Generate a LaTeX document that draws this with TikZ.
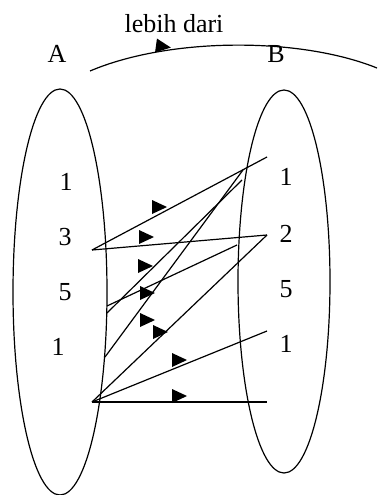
\documentclass[tikz,border=0pt]{standalone}
\usepackage{fontspec}
\setmainfont{Liberation Serif}

\begin{document}
\begin{tikzpicture}[x=1pt,y=-1pt,line width=1.2pt,
  every node/.style={font=\fontsize{26}{30}\selectfont,anchor=base,inner sep=0pt},
  head/.pic={\fill (0,-7) -- (15,0) -- (0,7) -- cycle;}]
\useasboundingbox (0,0) rectangle (378,495);
% the two sets
\draw (60,292) ellipse (47 and 203);
\draw (284,281.5) ellipse (46 and 191.5);
\node (setA) at (57,63) {A};
\node (setB) at (276,63) {B};
% relation arc
\coordinate (arcL) at (90,71);
\coordinate (arcR) at (377,68);
\draw (arcL) .. controls (170,37) and (300,37) .. (arcR);
\node (rel) at (174,33) {lebih dari};
\pic[rotate=-8] (hd0) at (156,45.5) {head};
% members of A
\node (a1) at (66,190) {1};
\node (a3) at (65,245) {3};
\node (a5) at (65,300) {5};
\node (a1b) at (58,355) {1};
% members of B
\node (b1) at (286,185) {1};
\node (b2) at (286,242) {2};
\node (b5) at (286,297) {5};
\node (b1b) at (286,352) {1};
% end points
\coordinate (P3) at (92,250);
\coordinate (P5) at (107,313);
\coordinate (P5b) at (107,306);
\coordinate (P1) at (105,357);
\coordinate (Pb) at (92,402);
\coordinate (Q1) at (267,157);
\coordinate (Q2) at (267,235);
\coordinate (Q1b) at (267,331);
\coordinate (Qb) at (267,402);
\coordinate (C1) at (243,170);
\coordinate (C2) at (242,180);
\coordinate (C3) at (237,245);
\draw (P3) -- (Q1);
\draw (P3) -- (Q2);
\draw (P5) -- (C2);
\draw (P5b) -- (C3);
\draw (P1) -- (C1);
\draw (Pb) -- (Q2);
\draw (Pb) -- (Q1b);
\draw (Pb) -- (Qb);
\pic (hd1) at (152,207) {head};
\pic (hd2) at (139,237) {head};
\pic (hd3) at (138,266) {head};
\pic (hd4) at (140,293) {head};
\pic (hd5) at (140,320) {head};
\pic (hd6) at (153,332) {head};
\pic (hd7) at (172,360) {head};
\pic (hd8) at (172,396) {head};
\end{tikzpicture}
\end{document}
